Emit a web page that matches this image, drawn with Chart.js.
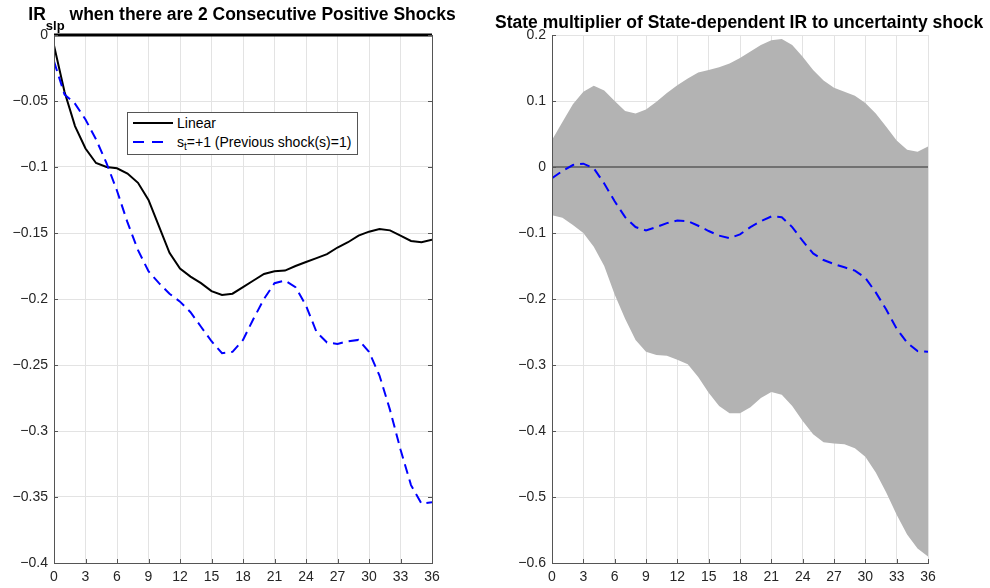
<!DOCTYPE html>
<html>
<head>
<meta charset="utf-8">
<script src="https://cdn.jsdelivr.net/npm/chart.js@4.4.0/dist/chart.umd.min.js"></script>
<style>
  html, body { margin: 0; padding: 0; background: #fff; }
  body { width: 990px; height: 588px; position: relative; overflow: hidden;
         font-family: "Liberation Sans", Arial, Helvetica, sans-serif; color: #000; }
  canvas { position: absolute; top: 0; }
  #cLeft { left: 0; }
  #cRight { left: 495px; }
  .ttl { position: absolute; font-weight: bold; font-size: 17.5px; line-height: 20px;
         white-space: nowrap; text-align: center; }
  #tLeft { left: 0; width: 484px; top: 4px; }
  #tRight { left: 495px; width: 488px; top: 12px; }
  .sub { font-size: 13px; position: relative; top: 10px; }
  #legend { position: absolute; left: 127px; top: 112px; width: 231px; height: 43px;
            box-sizing: border-box; border: 1px solid #555; background: #fff; font-size: 14px; }
  #legend .row { position: absolute; left: 0; height: 18px; line-height: 18px; white-space: nowrap; }
  #legend svg { position: absolute; left: 5px; top: 4px; }
  #legend .lbl { position: absolute; left: 49px; top: 0; }
  #legend .lbl sub { font-size: 10px; vertical-align: -3px; line-height: 0; }
</style>
</head>
<body>
<canvas id="cLeft" width="495" height="588"></canvas>
<canvas id="cRight" width="495" height="588"></canvas>

<div class="ttl" id="tLeft">IR<span class="sub">slp</span> when there are 2 Consecutive Positive Shocks</div>
<div class="ttl" id="tRight">State multiplier of State-dependent IR to uncertainty shock</div>

<div id="legend">
  <div class="row" style="top:1px">
    <svg width="42" height="10"><line x1="0" y1="5" x2="40" y2="5" stroke="#000" stroke-width="2"/></svg>
    <span class="lbl">Linear</span>
  </div>
  <div class="row" style="top:20px">
    <svg width="42" height="10"><line x1="0" y1="5" x2="34" y2="5" stroke="#0000ff" stroke-width="2" stroke-dasharray="11,8"/></svg>
    <span class="lbl">s<sub>t</sub>=+1 (Previous shock(s)=1)</span>
  </div>
</div>

<script>
// ── data ─────────────────────────────────────────
const horizons = [0,1,2,3,4,5,6,7,8,9,10,11,12,13,14,15,16,17,18,19,20,21,22,23,24,25,26,27,28,29,30,31,32,33,34,35,36];

// left panel
const linearIR = [-0.008,-0.043,-0.069,-0.086,-0.097,-0.100,-0.101,-0.105,-0.112,-0.125,
                  -0.145,-0.165,-0.177,-0.183,-0.188,-0.194,-0.197,-0.196,-0.191,-0.186,
                  -0.181,-0.179,-0.1785,-0.175,-0.172,-0.169,-0.166,-0.161,-0.157,-0.152,
                  -0.149,-0.147,-0.148,-0.152,-0.156,-0.157,-0.155];
const stateIR  = [-0.020,-0.045,-0.052,-0.064,-0.079,-0.097,-0.118,-0.142,-0.163,-0.179,
                  -0.188,-0.196,-0.202,-0.210,-0.221,-0.232,-0.241,-0.240,-0.231,-0.215,
                  -0.200,-0.188,-0.186,-0.191,-0.205,-0.225,-0.233,-0.234,-0.232,-0.231,
                  -0.240,-0.258,-0.284,-0.314,-0.341,-0.355,-0.354];

// right panel
const multiplier = [-0.017,-0.006,0.003,0.005,-0.002,-0.025,-0.052,-0.076,-0.091,-0.096,
                    -0.091,-0.085,-0.081,-0.082,-0.089,-0.097,-0.104,-0.108,-0.102,-0.091,
                    -0.082,-0.075,-0.076,-0.091,-0.112,-0.131,-0.141,-0.147,-0.152,-0.157,
                    -0.168,-0.190,-0.216,-0.245,-0.266,-0.279,-0.280];
const upperBand  = [0.041,0.068,0.095,0.114,0.123,0.116,0.100,0.085,0.081,0.087,
                    0.099,0.112,0.124,0.134,0.143,0.147,0.151,0.157,0.165,0.175,
                    0.185,0.192,0.194,0.185,0.167,0.147,0.131,0.120,0.114,0.108,
                    0.097,0.081,0.061,0.040,0.026,0.023,0.031];
const lowerBand  = [-0.073,-0.077,-0.088,-0.100,-0.121,-0.150,-0.193,-0.230,-0.262,-0.280,
                    -0.285,-0.286,-0.292,-0.299,-0.318,-0.342,-0.362,-0.373,-0.373,-0.364,
                    -0.350,-0.341,-0.345,-0.362,-0.385,-0.405,-0.417,-0.419,-0.420,-0.426,
                    -0.439,-0.463,-0.493,-0.527,-0.557,-0.578,-0.590];

const xTicks = { min: 0, max: 36, step: 3 };

// ── helpers ──────────────────────────────────────
const pts = arr => horizons.map((h, i) => ({ x: h, y: arr[i] }));
const zeros = horizons.map(h => ({ x: h, y: 0 }));
// MATLAB prints a real minus sign in tick labels
const fmtTick = v => String(+Number(v).toFixed(2)).replace('-', '\u2212');

// inward MATLAB-style ticks (+ optional right box edge)
const innerTicks = {
  id: 'innerTicks',
  afterDatasetsDraw(chart, args, opts) {
    const { ctx, chartArea: a, scales: { x, y } } = chart;
    ctx.save();
    ctx.strokeStyle = '#555';
    ctx.lineWidth = 1;
    ctx.beginPath();
    x.ticks.forEach(t => {
      const px = Math.round(x.getPixelForValue(t.value)) + 0.5;
      ctx.moveTo(px, a.bottom); ctx.lineTo(px, a.bottom - 4);
    });
    y.ticks.forEach(t => {
      const py = Math.round(y.getPixelForValue(t.value)) + 0.5;
      ctx.moveTo(a.left, py); ctx.lineTo(a.left + 4, py);
      if (opts.box) { ctx.moveTo(a.right, py); ctx.lineTo(a.right - 4, py); }
    });
    if (opts.box) { ctx.moveTo(a.right + 0.5, a.top); ctx.lineTo(a.right + 0.5, a.bottom); }
    ctx.stroke();
    ctx.restore();
  }
};

function axes(yMin, yMax, yStep, yWidth) {
  return {
    x: {
      type: 'linear', min: xTicks.min, max: xTicks.max,
      grid: { color: '#e3e3e3', drawTicks: false },
      border: { display: true, color: '#555', z: 1 },
      ticks: { stepSize: xTicks.step, padding: 6, color: '#262626',
               font: { size: 14, family: '"Liberation Sans", Arial, sans-serif' } },
      afterFit: s => { s.height = 25; }
    },
    y: {
      min: yMin, max: yMax,
      grid: { color: '#e3e3e3', drawTicks: false },
      border: { display: true, color: '#555', z: 1 },
      ticks: { stepSize: yStep, padding: 6, color: '#262626', callback: fmtTick,
               font: { size: 14, family: '"Liberation Sans", Arial, sans-serif' } },
      afterFit: s => { s.width = yWidth; }
    }
  };
}

// ── left chart ───────────────────────────────────
new Chart(document.getElementById('cLeft'), {
  type: 'line',
  data: {
    datasets: [
      { label: 's_t=+1', data: pts(stateIR), borderColor: '#0000ff', borderWidth: 2,
        borderDash: [10, 6], pointRadius: 0, tension: 0, order: 0 },
      { label: 'Linear', data: pts(linearIR), borderColor: '#000', borderWidth: 2,
        pointRadius: 0, tension: 0, order: 1 },
      { label: 'zero', data: zeros, borderColor: '#000', borderWidth: 3,
        pointRadius: 0, order: 2, clip: 3 }
    ]
  },
  options: {
    responsive: false, animation: false,
    layout: { padding: { top: 35, right: 63, bottom: 0, left: 0 } },
    plugins: { legend: { display: false }, tooltip: { enabled: false }, innerTicks: { box: true } },
    scales: axes(-0.4, 0, 0.05, 54)
  },
  plugins: [innerTicks]
});

// ── right chart ──────────────────────────────────
new Chart(document.getElementById('cRight'), {
  type: 'line',
  data: {
    datasets: [
      { label: 'multiplier', data: pts(multiplier), borderColor: '#0000ff', borderWidth: 2,
        borderDash: [10, 6], pointRadius: 0, tension: 0, order: 0 },
      { label: 'zero', data: zeros, borderColor: '#707070', borderWidth: 2,
        pointRadius: 0, order: 1 },
      { label: 'upper', data: pts(upperBand), borderWidth: 0, borderColor: 'rgba(0,0,0,0)',
        backgroundColor: '#b3b3b3', fill: '+1', pointRadius: 0, tension: 0, order: 2 },
      { label: 'lower', data: pts(lowerBand), borderWidth: 0, borderColor: 'rgba(0,0,0,0)',
        pointRadius: 0, tension: 0, order: 3 }
    ]
  },
  options: {
    responsive: false, animation: false,
    layout: { padding: { top: 35, right: 62, bottom: 0, left: 0 } },
    plugins: { legend: { display: false }, tooltip: { enabled: false }, innerTicks: { box: false } },
    scales: axes(-0.6, 0.2, 0.1, 57)
  },
  plugins: [innerTicks]
});
</script>
</body>
</html>
